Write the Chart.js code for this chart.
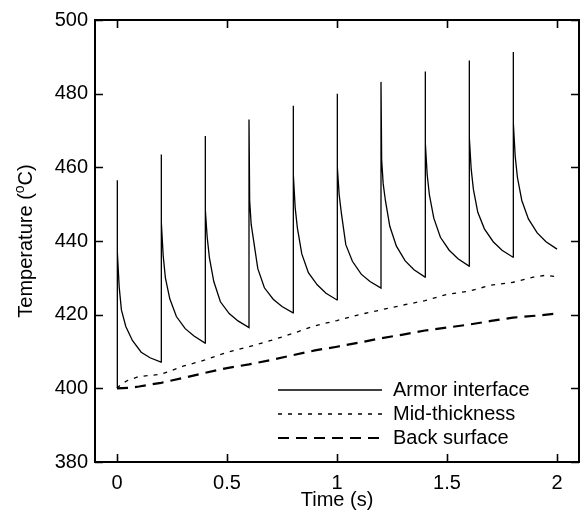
<!DOCTYPE html>
<html>
<head>
<meta charset="utf-8">
<script src="https://cdn.jsdelivr.net/npm/chart.js@4.4.1/dist/chart.umd.min.js"></script>
<style>
  html, body { margin: 0; padding: 0; background: #fff; }
  #wrap { width: 584px; height: 526px; }
</style>
</head>
<body>
<div id="wrap"><canvas id="c" width="584" height="526"></canvas></div>
<script>
// ---- data ----
const seriesNames = ['Armor interface', 'Mid-thickness', 'Back surface'];
const xTicks = [0, 0.5, 1, 1.5, 2];
const yTicks = [380, 400, 420, 440, 460, 480, 500];

const armorT = [
  0, 0, 0.003, 0.01, 0.02, 0.04, 0.07, 0.11, 0.15, 0.2,
  0.2, 0.203, 0.21, 0.22, 0.24, 0.27, 0.31, 0.35, 0.4,
  0.4, 0.403, 0.41, 0.42, 0.44, 0.47, 0.51, 0.55, 0.6,
  0.6, 0.603, 0.61, 0.62, 0.64, 0.67, 0.71, 0.75, 0.8,
  0.8, 0.803, 0.81, 0.82, 0.84, 0.87, 0.91, 0.95, 1.0,
  1.0, 1.003, 1.01, 1.02, 1.04, 1.07, 1.11, 1.15, 1.2,
  1.2, 1.203, 1.21, 1.22, 1.24, 1.27, 1.31, 1.35, 1.4,
  1.4, 1.403, 1.41, 1.42, 1.44, 1.47, 1.51, 1.55, 1.6,
  1.6, 1.603, 1.61, 1.62, 1.64, 1.67, 1.71, 1.75, 1.8,
  1.8, 1.803, 1.81, 1.82, 1.84, 1.87, 1.91, 1.95, 2.0
];
const armorV = [
  400, 456.5, 437, 427.5, 421.3, 416.8, 413, 409.8, 408.3, 407.1,
  463.5, 445, 436, 430, 424.3, 419.5, 416.2, 414.2, 412.3,
  468.5, 448.4, 441, 435.5, 429, 423.5, 420.3, 418.3, 416.5,
  473, 451, 444.5, 440.5, 432.5, 427.3, 424.2, 422.2, 420.5,
  476.7, 458, 449, 443.5, 436.5, 431.4, 428.1, 425.8, 424,
  480, 460, 452.5, 447.5, 439, 434.5, 431, 429, 427.2,
  483.2, 462, 455.5, 451, 444, 438.6, 434.6, 432.2, 430.2,
  486, 466.5, 458, 452.5, 446.2, 441, 437.5, 435.2, 433.2,
  489, 468, 459.5, 454, 447.8, 443.3, 439.8, 437.5, 435.6,
  491.3, 472, 463, 457.3, 451, 446, 442.2, 439.8, 437.8
];

const midT = [0, 0.02, 0.05, 0.1, 0.2, 0.3, 0.4, 0.5, 0.6, 0.7, 0.8, 0.9, 1.0, 1.1, 1.2, 1.3, 1.4, 1.5, 1.6, 1.7, 1.8, 1.9, 1.95, 2.0];
const midV = [400, 401.2, 402.2, 403.2, 403.8, 406, 407.7, 409.8, 411.3, 413, 414.9, 417, 418.4, 420, 421.3, 422.6, 423.8, 425.5, 426.4, 428, 428.8, 430.3, 430.7, 430.3];

const backT = [0, 0.05, 0.1, 0.2, 0.3, 0.4, 0.5, 0.6, 0.7, 0.8, 0.9, 1.0, 1.1, 1.2, 1.3, 1.4, 1.5, 1.6, 1.7, 1.8, 1.9, 2.0];
const backV = [400, 400.1, 400.5, 401.5, 402.8, 404.2, 405.5, 406.5, 407.7, 409, 410.3, 411.3, 412.4, 413.6, 414.6, 415.7, 416.5, 417.3, 418.3, 419.2, 419.7, 420.3];

const xTitle = 'Time (s)';
const yTitleParts = ['Temperature (', 'o', 'C)'];

// ---- styles ----
const FONT = '"Liberation Sans", Arial, sans-serif';
const styles = [
  { width: 1.3, dash: [] },
  { width: 1.3, dash: [4, 6] },
  { width: 2.2, dash: [11, 7] }
];

function pts(t, v) { return t.map((x, i) => ({ x: x, y: v[i] })); }

const framePlugin = {
  id: 'frame',
  afterDraw(chart) {
    const ctx = chart.ctx;
    const a = chart.chartArea;
    const xs = chart.scales.x, ys = chart.scales.y;
    ctx.save();
    ctx.strokeStyle = '#000';
    ctx.setLineDash([]);
    // box
    ctx.lineWidth = 2;
    ctx.strokeRect(a.left, a.top, a.right - a.left, a.bottom - a.top);
    // inward ticks
    ctx.lineWidth = 1.6;
    const TL = 8;
    ctx.beginPath();
    xTicks.forEach(v => {
      const p = Math.round(xs.getPixelForValue(v)) + 0.5;
      ctx.moveTo(p, a.bottom); ctx.lineTo(p, a.bottom - TL);
      ctx.moveTo(p, a.top); ctx.lineTo(p, a.top + TL);
    });
    yTicks.forEach(v => {
      const p = Math.round(ys.getPixelForValue(v)) + 0.5;
      ctx.moveTo(a.left, p); ctx.lineTo(a.left + TL, p);
      ctx.moveTo(a.right, p); ctx.lineTo(a.right - TL, p);
    });
    ctx.stroke();

    // axis titles
    ctx.fillStyle = '#000';
    ctx.font = '20px ' + FONT;
    ctx.textAlign = 'center';
    ctx.textBaseline = 'middle';
    ctx.fillText(xTitle, (a.left + a.right) / 2, 500);

    // y title with superscript
    ctx.save();
    ctx.translate(25, (a.top + a.bottom) / 2);
    ctx.rotate(-Math.PI / 2);
    const f1 = '20px ' + FONT, f2 = '14px ' + FONT;
    ctx.font = f1; const w1 = ctx.measureText(yTitleParts[0]).width;
    const w3 = ctx.measureText(yTitleParts[2]).width;
    ctx.font = f2; const w2 = ctx.measureText(yTitleParts[1]).width;
    const total = w1 + w2 + w3;
    let x0 = -total / 2;
    ctx.textAlign = 'left';
    ctx.textBaseline = 'alphabetic';
    ctx.font = f1; ctx.fillText(yTitleParts[0], x0, 7);
    ctx.font = f2; ctx.fillText(yTitleParts[1], x0 + w1, -1);
    ctx.font = f1; ctx.fillText(yTitleParts[2], x0 + w1 + w2, 7);
    ctx.restore();

    // legend
    const lx0 = 278, lx1 = 382, tx = 393;
    const ly = [390, 414, 438];
    seriesNames.forEach((name, i) => {
      ctx.beginPath();
      ctx.lineWidth = styles[i].width;
      ctx.setLineDash(styles[i].dash);
      ctx.moveTo(lx0, ly[i]); ctx.lineTo(lx1, ly[i]);
      ctx.stroke();
      ctx.setLineDash([]);
      ctx.font = '20px ' + FONT;
      ctx.textAlign = 'left';
      ctx.textBaseline = 'middle';
      ctx.fillText(name, tx, ly[i]);
    });
    ctx.restore();
  }
};

const series = [pts(armorT, armorV), pts(midT, midV), pts(backT, backV)];

new Chart(document.getElementById('c'), {
  type: 'scatter',
  data: {
    datasets: series.map((d, i) => ({
      label: seriesNames[i],
      data: d,
      showLine: true,
      borderColor: '#000',
      borderWidth: styles[i].width,
      borderDash: styles[i].dash,
      pointRadius: 0,
      tension: 0,
      fill: false
    }))
  },
  options: {
    responsive: false,
    animation: false,
    devicePixelRatio: 1,
    layout: { padding: { left: 0, right: 5, top: 20, bottom: 0 } },
    plugins: { legend: { display: false }, tooltip: { enabled: false } },
    scales: {
      x: {
        type: 'linear', min: -0.1, max: 2.1,
        afterBuildTicks: s => { s.ticks = xTicks.map(v => ({ value: v })); },
        afterFit: s => { s.height = 64; },
        grid: { display: false, drawTicks: false },
        border: { display: false },
        ticks: { color: '#000', font: { family: FONT, size: 20 }, padding: 9, maxRotation: 0,
                 callback: v => String(v) }
      },
      y: {
        type: 'linear', min: 380, max: 500,
        afterBuildTicks: s => { s.ticks = yTicks.map(v => ({ value: v })); },
        afterFit: s => { s.width = 95; },
        grid: { display: false, drawTicks: false },
        border: { display: false },
        ticks: { color: '#000', font: { family: FONT, size: 20 }, padding: 7 }
      }
    }
  },
  plugins: [framePlugin]
});
</script>
</body>
</html>
